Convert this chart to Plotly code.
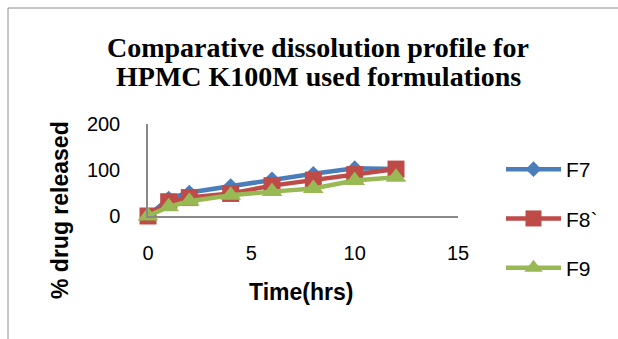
import plotly.graph_objects as go

time_hrs = [0, 1, 2, 4, 6, 8, 10, 12]
f7 = [0, 38, 51, 65, 80, 92, 104, 102]
f8 = [0, 31, 40, 49, 66, 78, 90, 102]
f9 = [0, 20, 32, 45, 53, 60, 77, 84]
series_names = ["F7", "F8`", "F9"]
x_ticks = [0, 5, 10, 15]
y_ticks = [0, 100, 200]

colors = ["#4A7EBB", "#BE4B48", "#98B954"]
symbols = ["diamond", "square", "triangle-up"]
sizes = [12, 17, 18]

fig = go.Figure()
for name, vals, c, s, sz in zip(series_names, [f7, f8, f9], colors, symbols, sizes):
    fig.add_trace(go.Scatter(
        x=time_hrs, y=vals, name=name, mode="lines+markers",
        line=dict(color=c, width=4.5),
        marker=dict(symbol=s, size=sz, color=c, line=dict(width=0)),
        cliponaxis=False, legendgroup=name,
    ))

L, R, T, B = 148, 160, 124, 123
W, H = 618, 339
pw, ph = W - L - R, H - T - B

def px(x):
    return (x - L) / pw

def py(y):
    return (H - B - y) / ph

fig.update_layout(
    width=W, height=H,
    margin=dict(l=L, r=R, t=T, b=B),
    paper_bgcolor="white", plot_bgcolor="white",
    showlegend=True,
    legend=dict(
        x=px(501), y=py(149), xanchor="left", yanchor="top",
        font=dict(family="Liberation Sans", size=21, color="black"),
        tracegroupgap=19, itemwidth=55, bgcolor="rgba(0,0,0,0)",
        maxheight=339,
    ),
    xaxis=dict(
        range=[0, 15], tickvals=x_ticks, showgrid=False, zeroline=False,
        showline=True, linecolor="#898989", linewidth=1.5, ticks="",
        tickfont=dict(family="Liberation Sans", size=20, color="black"),
        ticklabelstandoff=18,
    ),
    yaxis=dict(
        range=[0, 200], tickvals=y_ticks, showgrid=False, zeroline=False,
        showline=True, linecolor="#898989", linewidth=1.5, ticks="",
        tickfont=dict(family="Liberation Sans", size=20, color="black"),
        ticklabelstandoff=22,
    ),
    shapes=[dict(
        type="rect", xref="paper", yref="paper",
        x0=px(8), x1=px(640), y0=py(8), y1=py(360),
        line=dict(color="#8C8C8C", width=1), fillcolor="rgba(0,0,0,0)", layer="below",
    )],
    annotations=[
        dict(text="<b>Comparative dissolution profile for</b>", xref="paper", yref="paper",
             x=px(318), y=py(47), xanchor="center", yanchor="middle", showarrow=False,
             font=dict(family="Liberation Serif", size=28, color="black")),
        dict(text="<b>HPMC K100M used formulations</b>", xref="paper", yref="paper",
             x=px(318), y=py(76), xanchor="center", yanchor="middle", showarrow=False,
             font=dict(family="Liberation Serif", size=28, color="black")),
        dict(text="<b>% drug released</b>", xref="paper", yref="paper",
             x=px(60), y=py(210), xanchor="center", yanchor="middle", showarrow=False,
             textangle=-90,
             font=dict(family="Liberation Sans", size=23, color="black")),
        dict(text="<b>Time(hrs)</b>", xref="paper", yref="paper",
             x=px(301), y=py(292), xanchor="center", yanchor="middle", showarrow=False,
             font=dict(family="Liberation Sans", size=23, color="black")),
    ],
)

fig.write_html("out.html")
